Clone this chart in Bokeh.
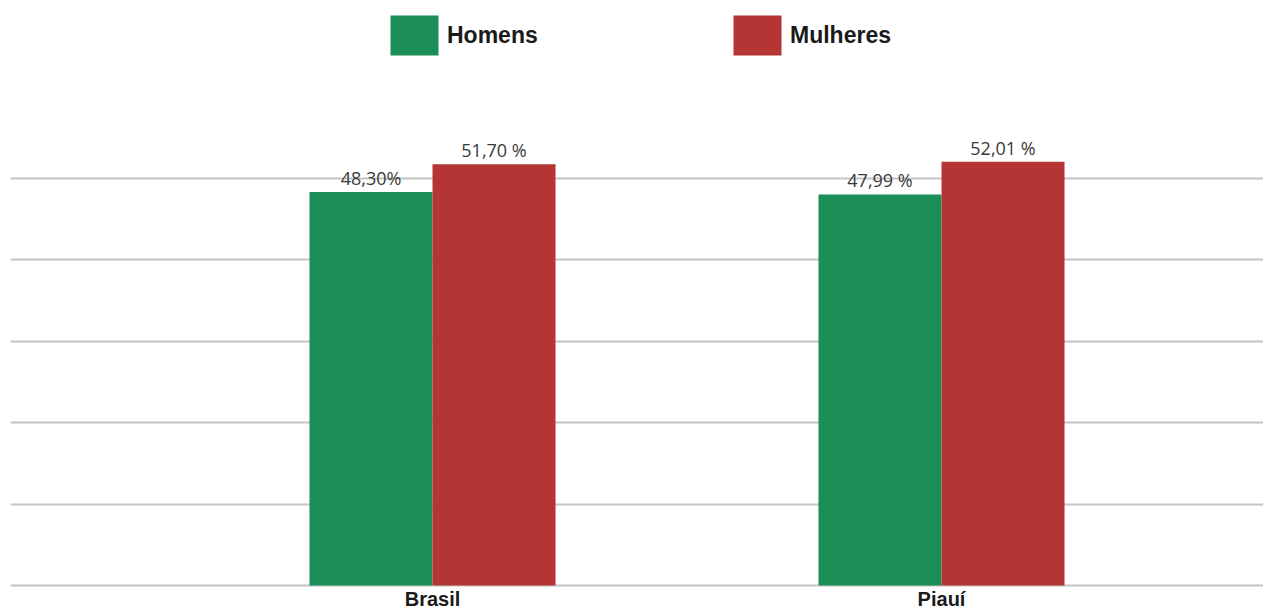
from bokeh.plotting import figure
from bokeh.models import Range1d, FixedTicker, Legend, LegendItem, ColumnDataSource
from bokeh.embed import file_html
from bokeh.resources import INLINE
from bokeh.core.properties import value

categories = ["Brasil", "Piauí"]
series = ["Homens", "Mulheres"]
homens = [48.30, 47.99]
mulheres = [51.70, 52.01]
homens_labels = ["48,30%", "47,99 %"]
mulheres_labels = ["51,70 %", "52,01 %"]
y_ticks = [0, 10, 20, 30, 40, 50]

GREEN = "#1A8E56"
RED = "#B53434"
W = 0.2417

p = figure(width=1263, height=612, output_backend="svg", toolbar_location=None,
           x_range=Range1d(-0.8291, 1.6326), y_range=Range1d(-0.245, 71.8),
           min_border_left=10, min_border_right=0, min_border_top=0, min_border_bottom=0)
p.outline_line_color = None
p.background_fill_color = "white"
p.border_fill_color = "white"

idx = list(range(len(categories)))
src_h = ColumnDataSource(dict(x=[i - W / 2 for i in idx], top=homens, lab=homens_labels))
src_m = ColumnDataSource(dict(x=[i + W / 2 for i in idx], top=mulheres, lab=mulheres_labels))

rh = p.vbar(x="x", top="top", width=W, bottom=0, source=src_h, fill_color=GREEN, line_color=None)
rm = p.vbar(x="x", top="top", width=W, bottom=0, source=src_m, fill_color=RED, line_color=None)

for src in (src_h, src_m):
    p.text(x="x", y="top", text="lab", source=src, text_align="center", text_baseline="bottom",
           y_offset=-2, text_font=value("Open Sans"), text_font_size="18px", text_color="#3a3a3a")

p.yaxis.visible = False
p.ygrid.ticker = FixedTicker(ticks=y_ticks)
p.ygrid.grid_line_color = "#c4c4c4"
p.ygrid.grid_line_width = 2
p.xgrid.visible = False

p.xaxis.ticker = FixedTicker(ticks=idx)
p.xaxis.major_label_overrides = {i: c for i, c in zip(idx, categories)}
p.xaxis.axis_line_color = None
p.xaxis.major_tick_line_color = None
p.xaxis.minor_tick_line_color = None
p.xaxis.major_tick_out = 0
p.xaxis.major_tick_in = 0
p.xaxis.minor_tick_out = 0
p.xaxis.major_label_standoff = 0
p.xaxis.major_label_text_font = "Liberation Sans"
p.xaxis.major_label_text_font_style = "bold"
p.xaxis.major_label_text_font_size = "20px"
p.xaxis.major_label_text_color = "#1a1a1a"

legend = Legend(items=[LegendItem(label=series[0], renderers=[rh]),
                       LegendItem(label=series[1], renderers=[rm])],
                location=(374, 527), orientation="horizontal",
                glyph_width=60, glyph_height=50, label_standoff=3, label_width=100,
                spacing=180, padding=0, margin=0,
                background_fill_alpha=0, border_line_alpha=0,
                label_text_font="Liberation Sans", label_text_font_style="bold",
                label_text_font_size="23px", label_text_color="#1a1a1a")
p.add_layout(legend, "center")

open("out.html", "w").write(file_html(p, INLINE))
